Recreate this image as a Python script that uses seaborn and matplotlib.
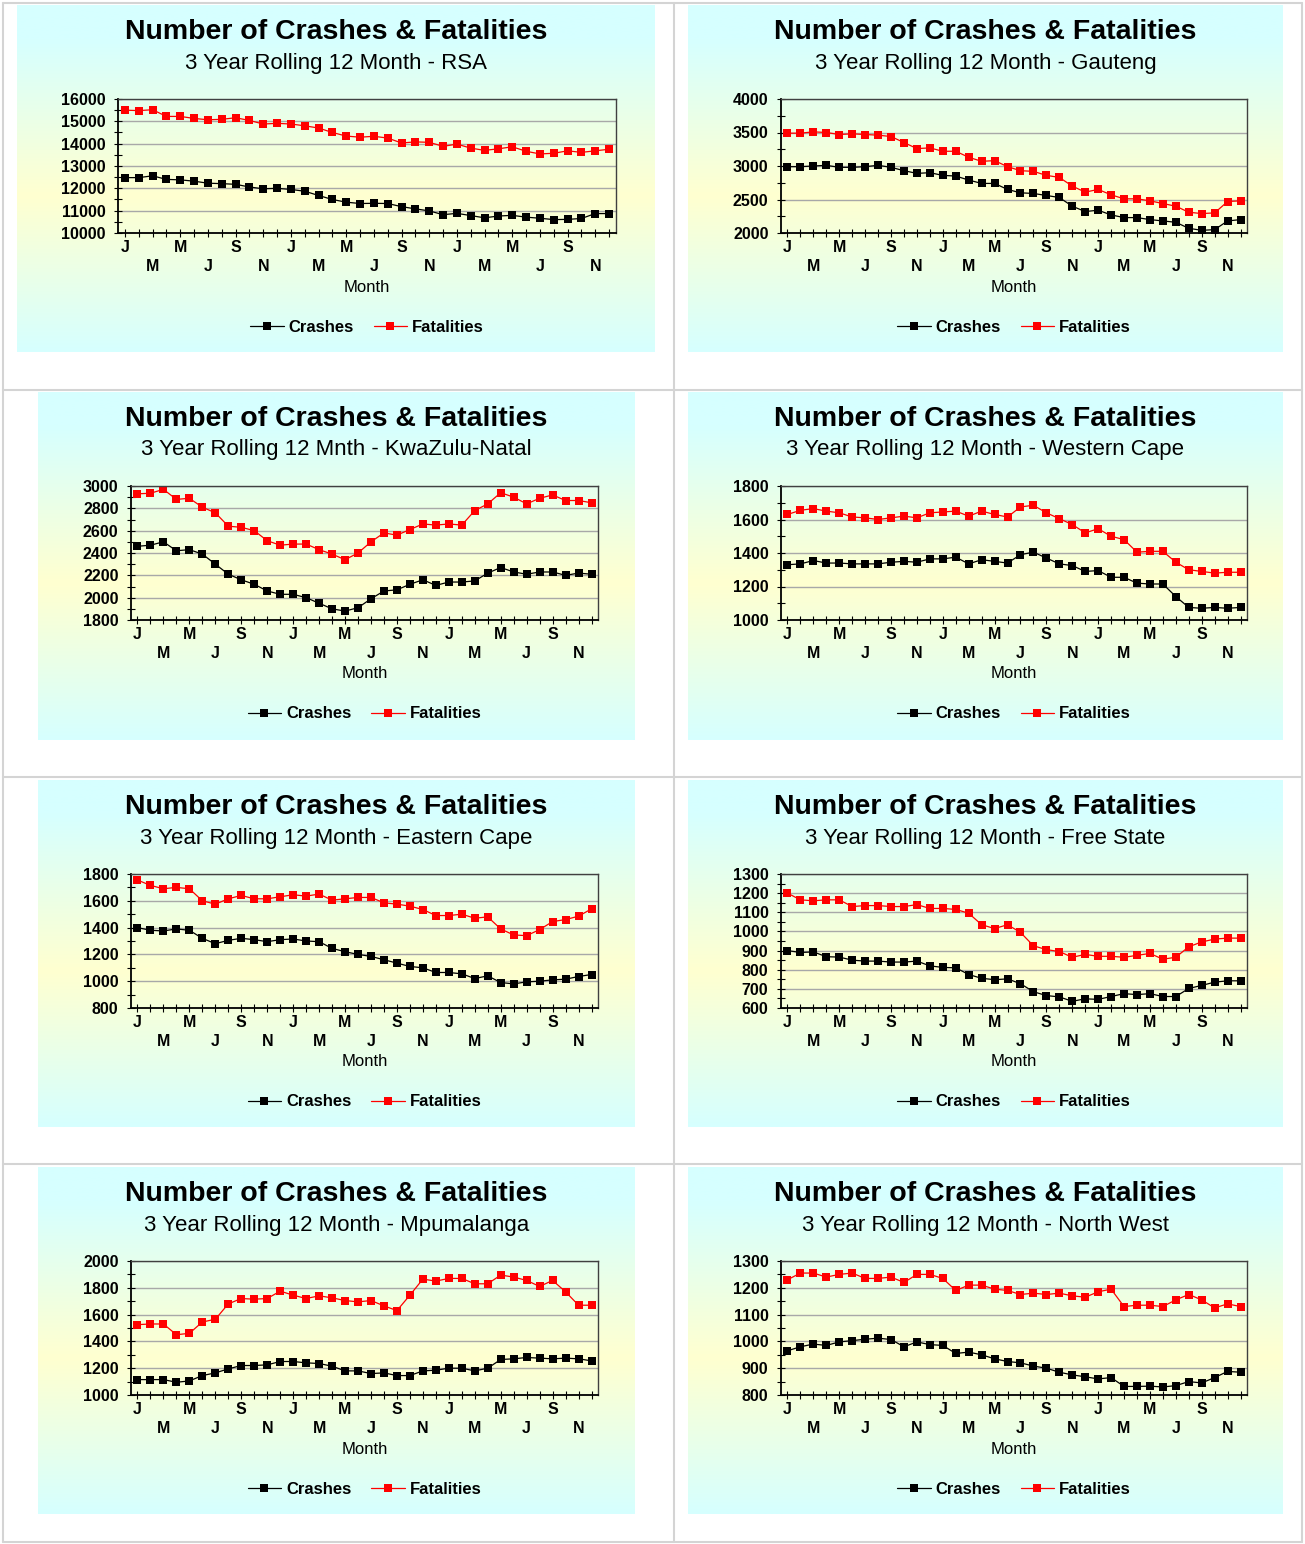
import numpy as np
import pandas as pd
import matplotlib
matplotlib.use("Agg")
import matplotlib.pyplot as plt
from matplotlib.lines import Line2D
import seaborn as sns

# месяцы (3 года по 12)
month_letters = list("JFMAMJJASOND") * 3
months = list(range(36))

rsa_crashes = [12480, 12480, 12560, 12400, 12380, 12320, 12230, 12210, 12180, 12060, 11980, 12000,
               11950, 11870, 11680, 11500, 11380, 11320, 11330, 11320, 11180, 11080, 10990, 10820,
               10880, 10780, 10680, 10760, 10790, 10710, 10660, 10600, 10610, 10650, 10870, 10870]
rsa_fatal = [15500, 15480, 15520, 15220, 15220, 15130, 15070, 15090, 15160, 15040, 14880, 14910,
             14880, 14800, 14700, 14500, 14340, 14290, 14330, 14250, 14030, 14080, 14060, 13880,
             13980, 13800, 13700, 13770, 13860, 13660, 13540, 13570, 13680, 13610, 13680, 13750]

gau_crashes = [2990, 2990, 3000, 3010, 2980, 2980, 2990, 3010, 2980, 2930, 2890, 2900,
               2860, 2850, 2790, 2740, 2740, 2650, 2600, 2590, 2560, 2530, 2400, 2320,
               2340, 2270, 2230, 2230, 2200, 2180, 2160, 2070, 2040, 2050, 2180, 2200]
gau_fatal = [3490, 3490, 3510, 3500, 3470, 3480, 3470, 3460, 3440, 3350, 3260, 3270,
             3220, 3220, 3130, 3070, 3080, 2990, 2930, 2920, 2860, 2830, 2700, 2610,
             2650, 2570, 2510, 2510, 2480, 2440, 2400, 2310, 2290, 2300, 2470, 2480]

kzn_crashes = [2460, 2470, 2500, 2420, 2430, 2390, 2300, 2210, 2160, 2120, 2060, 2030,
               2030, 2000, 1950, 1900, 1880, 1910, 1990, 2060, 2070, 2120, 2160, 2110,
               2140, 2140, 2150, 2220, 2270, 2230, 2210, 2230, 2230, 2200, 2220, 2210]
kzn_fatal = [2930, 2935, 2970, 2880, 2890, 2810, 2760, 2640, 2630, 2600, 2510, 2470,
             2480, 2480, 2430, 2390, 2340, 2400, 2500, 2580, 2560, 2610, 2660, 2650,
             2660, 2650, 2780, 2840, 2940, 2900, 2840, 2890, 2920, 2870, 2870, 2850]

wc_crashes = [1330, 1335, 1355, 1340, 1340, 1335, 1335, 1335, 1345, 1350, 1345, 1365,
              1365, 1375, 1335, 1360, 1350, 1340, 1390, 1405, 1370, 1335, 1325, 1290,
              1295, 1255, 1255, 1220, 1215, 1215, 1140, 1075, 1070, 1075, 1070, 1075]
wc_fatal = [1630, 1655, 1665, 1650, 1640, 1615, 1610, 1600, 1610, 1620, 1610, 1640,
            1645, 1650, 1620, 1650, 1630, 1615, 1675, 1685, 1640, 1605, 1570, 1520,
            1545, 1500, 1480, 1405, 1410, 1410, 1345, 1300, 1290, 1280, 1285, 1285]

ec_crashes = [1400, 1380, 1375, 1390, 1380, 1320, 1280, 1305, 1320, 1310, 1295, 1310,
              1315, 1300, 1295, 1245, 1220, 1200, 1185, 1160, 1135, 1110, 1100, 1065,
              1065, 1055, 1020, 1040, 990, 980, 995, 1000, 1010, 1015, 1035, 1050]
ec_fatal = [1755, 1715, 1690, 1700, 1690, 1600, 1575, 1615, 1640, 1615, 1615, 1630,
            1645, 1635, 1650, 1605, 1615, 1625, 1625, 1585, 1575, 1560, 1535, 1490,
            1490, 1500, 1470, 1480, 1390, 1345, 1340, 1385, 1445, 1460, 1485, 1540]

fs_crashes = [900, 890, 893, 868, 866, 850, 845, 845, 840, 840, 845, 820,
              812, 810, 775, 755, 748, 752, 727, 685, 665, 658, 635, 648,
              645, 660, 675, 670, 675, 660, 660, 702, 718, 735, 742, 742]
fs_fatal = [1200, 1165, 1160, 1165, 1165, 1130, 1135, 1135, 1130, 1130, 1140, 1120,
            1120, 1115, 1095, 1035, 1015, 1035, 995, 925, 905, 895, 865, 880,
            870, 870, 865, 875, 885, 855, 865, 920, 945, 960, 965, 965]

mp_crashes = [1115, 1115, 1115, 1095, 1105, 1145, 1165, 1195, 1220, 1220, 1225, 1250,
              1250, 1240, 1235, 1215, 1180, 1180, 1160, 1165, 1145, 1145, 1180, 1185,
              1200, 1200, 1180, 1200, 1265, 1270, 1280, 1275, 1270, 1275, 1270, 1255]
mp_fatal = [1525, 1530, 1530, 1450, 1460, 1545, 1565, 1680, 1720, 1715, 1720, 1775,
            1745, 1720, 1740, 1725, 1705, 1695, 1705, 1665, 1630, 1745, 1865, 1850,
            1870, 1870, 1830, 1830, 1895, 1880, 1855, 1810, 1855, 1770, 1670, 1670]

nw_crashes = [965, 980, 990, 985, 998, 1003, 1008, 1012, 1007, 980, 998, 988,
              985, 955, 960, 950, 935, 925, 920, 908, 900, 885, 875, 868,
              860, 865, 832, 832, 833, 830, 835, 850, 845, 865, 888, 885]
nw_fatal = [1230, 1255, 1255, 1240, 1250, 1255, 1235, 1235, 1240, 1220, 1250, 1250,
            1235, 1190, 1210, 1210, 1195, 1190, 1175, 1180, 1175, 1180, 1170, 1165,
            1185, 1195, 1130, 1135, 1135, 1130, 1155, 1175, 1155, 1125, 1140, 1130]

subtitles = ["3 Year Rolling 12 Month - RSA", "3 Year Rolling 12 Month - Gauteng",
             "3 Year Rolling 12 Mnth - KwaZulu-Natal", "3 Year Rolling 12 Month - Western Cape",
             "3 Year Rolling 12 Month - Eastern Cape", "3 Year Rolling 12 Month - Free State",
             "3 Year Rolling 12 Month - Mpumalanga", "3 Year Rolling 12 Month - North West"]
crashes_all = [rsa_crashes, gau_crashes, kzn_crashes, wc_crashes, ec_crashes, fs_crashes, mp_crashes, nw_crashes]
fatal_all = [rsa_fatal, gau_fatal, kzn_fatal, wc_fatal, ec_fatal, fs_fatal, mp_fatal, nw_fatal]
# (min, max, major step, minor step)
y_scales = [(10000, 16000, 1000, 500), (2000, 4000, 500, 250), (1800, 3000, 200, 100),
            (1000, 1800, 200, 100), (800, 1800, 200, 100), (600, 1300, 100, 50),
            (1000, 2000, 200, 100), (800, 1300, 100, 50)]

sns.set_style("white")
plt.rcParams['font.family'] = ['Liberation Sans', 'DejaVu Sans']
plt.rcParams['text.color'] = 'black'
plt.rcParams['xtick.color'] = 'black'
plt.rcParams['ytick.color'] = 'black'
plt.rcParams['axes.labelcolor'] = 'black'

W, H = 1305, 1544
fig = plt.figure(figsize=(W / 100, H / 100), dpi=100)


def rect(x0, y0, x1, y1):
    return [x0 / W, 1 - y1 / H, (x1 - x0) / W, (y1 - y0) / H]


# сетка таблицы
for xx in [3, 674, 1302]:
    fig.add_artist(Line2D([xx / W, xx / W], [1 - 3 / H, 1 - 1542 / H], color='#d4d4d4', lw=1.5))
for yy in [3, 390, 777, 1164, 1542]:
    fig.add_artist(Line2D([3 / W, 1302 / W], [1 - yy / H, 1 - yy / H], color='#d4d4d4', lw=1.5))

# градиент фона
cyan = np.array([214, 255, 255]) / 255
yellow = np.array([255, 255, 208]) / 255
t = np.linspace(0, 1, 200)
w = np.clip(1 - np.abs(t - 0.55) / 0.45, 0, 1)[:, None]
grad = (cyan * (1 - w) + yellow * w)[:, None, :]

boxes = [(17, 5, 655, 352), (688, 5, 1283, 352), (38, 392, 635, 740), (688, 392, 1283, 740),
         (38, 780, 635, 1127), (688, 780, 1283, 1127), (38, 1167, 635, 1514), (688, 1167, 1283, 1514)]
row_tops = [5, 392, 780, 1167]
col_axes = [(118, 616), (781, 1247)]
col_axes_low = [(131, 598), (781, 1247)]

month_ticklabels = []
for i in months:
    if i % 4 == 0:
        month_ticklabels.append(month_letters[i])
    elif i % 4 == 2:
        month_ticklabels.append("\n" + month_letters[i])
    else:
        month_ticklabels.append("")

for k in range(8):
    r, c = k // 2, k % 2
    bx0, by0, bx1, by1 = boxes[k]
    bg = fig.add_axes(rect(bx0, by0, bx1, by1), zorder=0)
    bg.imshow(grad, aspect='auto', extent=[0, 1, 0, 1])
    bg.axis('off')

    top = row_tops[r]
    ax0, ax1 = (col_axes if r == 0 else col_axes_low)[c]
    ay0, ay1 = top + 94, top + 228
    ax = fig.add_axes(rect(ax0, ay0, ax1, ay1), zorder=2)
    ax.patch.set_alpha(0)

    df = pd.DataFrame({'Month': months, 'Crashes': crashes_all[k], 'Fatalities': fatal_all[k]})
    sns.lineplot(data=df, x='Month', y='Crashes', ax=ax, color='black', marker='s',
                 markersize=5.3, markeredgewidth=0, linewidth=0.9, label='Crashes')
    sns.lineplot(data=df, x='Month', y='Fatalities', ax=ax, color='#ff0000', marker='s',
                 markersize=5.3, markeredgewidth=0, linewidth=0.9, label='Fatalities')

    ymin, ymax, major, minor = y_scales[k]
    ax.set_ylim(ymin, ymax)
    ax.set_xlim(-0.5, 35.5)
    ax.set_yticks(np.arange(ymin, ymax + 1, major))
    ax.set_yticks(np.arange(ymin, ymax + 1, minor), minor=True)
    ax.set_xticks(months)
    ax.set_xticklabels(month_ticklabels, fontsize=11.5, fontweight='bold', linespacing=1.3)
    for lab in ax.get_yticklabels():
        lab.set_fontweight('bold')
        lab.set_fontsize(11.5)
    ax.tick_params(axis='y', which='both', direction='inout', length=6, width=0.8, left=True, pad=6)
    ax.tick_params(axis='x', direction='inout', length=6, width=0.8, bottom=True, pad=2)
    ax.yaxis.grid(True, which='major', color='#a8a8a8', lw=1)
    ax.set_axisbelow(True)
    for s in ['left', 'bottom']:
        ax.spines[s].set_color('black')
        ax.spines[s].set_linewidth(1.3)
    for s in ['top', 'right']:
        ax.spines[s].set_color('#404040')
        ax.spines[s].set_linewidth(1.0)
    ax.set_xlabel('')
    ax.set_ylabel('')
    ax.get_legend().remove()

    cx_box = (bx0 + bx1) / 2
    cx_ax = (ax0 + ax1) / 2
    fig.text(cx_box / W, 1 - (top + 27) / H, "Number of Crashes & Fatalities", ha='center', va='center',
             fontsize=20.5, fontweight='bold', zorder=3)
    fig.text(cx_box / W, 1 - (top + 58) / H, subtitles[k], ha='center', va='center', fontsize=16, zorder=3)
    fig.text(cx_ax / W, 1 - (top + 282) / H, "Month", ha='center', va='center', fontsize=12, zorder=3)

    handles, labels = ax.get_legend_handles_labels()
    fig.legend(handles, labels, loc='center', bbox_to_anchor=(cx_ax / W, 1 - (top + 322) / H),
               ncol=2, frameon=False, prop={'weight': 'bold', 'size': 12}, handlelength=2.0,
               columnspacing=1.2, handletextpad=0.3)

fig.savefig('out.png', dpi=100)
